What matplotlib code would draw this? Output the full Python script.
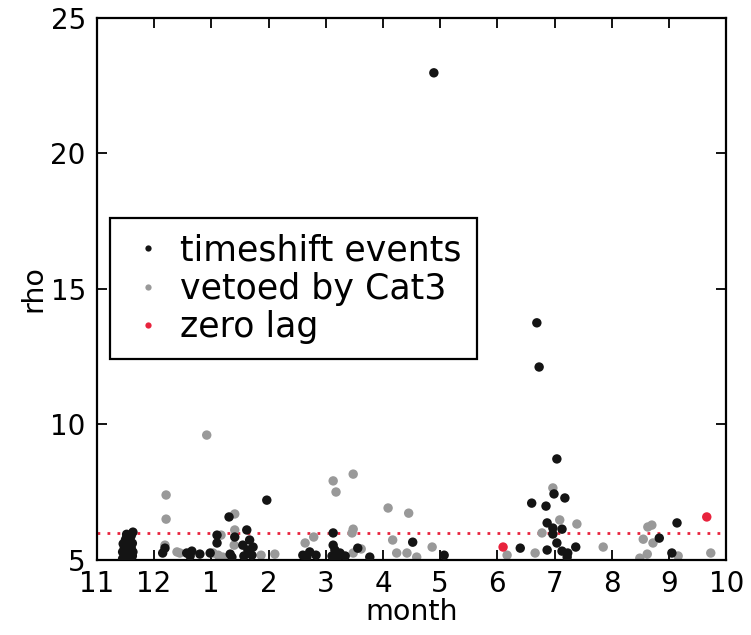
"""rho of timeshift / vetoed / zero-lag events against month."""

import matplotlib

matplotlib.use("Agg")
import matplotlib.pyplot as plt
from matplotlib.lines import Line2D

MONTH_TICKS = list(range(12))
MONTH_LABELS = ["11", "12", "1", "2", "3", "4", "5", "6", "7", "8", "9", "10"]
THRESHOLD = 6.0

# timeshift events (black)
ts_x = [0.45, 0.48, 0.45, 0.48, 0.46, 0.50, 0.52, 0.55, 0.56, 0.54, 0.57, 0.55,
        0.58, 0.63, 0.62, 0.63, 0.60, 0.62, 0.60, 0.52,
        1.15, 1.19, 1.57, 1.66, 1.80, 1.63, 1.98,
        2.10, 2.10, 2.31, 2.33, 2.36, 2.41, 2.62, 2.55, 2.67, 2.64, 2.71, 2.57, 2.73,
        2.97, 3.60, 3.72, 3.83, 3.67,
        4.13, 4.13, 4.16, 4.25, 4.34, 4.11, 4.21, 4.56, 4.77,
        5.52, 5.89, 6.07, 7.40,
        7.60, 7.69, 7.73, 7.85, 7.87, 7.97, 8.13, 7.97, 7.99, 8.18, 8.04, 8.04,
        7.87, 8.13, 8.23, 8.37, 8.22,
        9.83, 10.14, 10.05]
ts_y = [5.05, 5.15, 5.30, 5.45, 5.60, 5.75, 5.85, 5.05, 5.20, 5.35, 5.50, 5.65,
        5.80, 6.03, 5.15, 5.30, 5.45, 5.62, 5.90, 5.95,
        5.26, 5.44, 5.26, 5.33, 5.22, 5.15, 5.26,
        5.92, 5.63, 6.59, 5.22, 5.11, 5.85, 6.11, 5.55, 5.74, 5.37, 5.18, 5.15, 5.48,
        7.21, 5.18, 5.30, 5.18, 5.11,
        6.00, 5.55, 5.37, 5.26, 5.15, 5.15, 5.11, 5.44, 5.11,
        5.66, 22.97, 5.18, 5.44,
        7.10, 13.75, 12.12, 6.99, 6.37, 6.18, 6.14, 5.96, 7.44, 7.29, 8.73, 5.63,
        5.37, 5.33, 5.26, 5.48, 5.11,
        5.81, 6.37, 5.26]

# vetoed by Cat3 (grey)
veto_x = [1.21, 1.21, 1.19, 1.40, 1.45, 1.92, 2.03, 2.17, 2.12, 2.20,
          2.41, 2.41, 2.40, 2.87, 3.11, 3.64, 3.79,
          4.13, 4.18, 4.48, 4.46, 4.48, 4.48, 4.62,
          5.09, 5.45, 5.17, 5.24, 5.42, 5.59, 5.86,
          7.17, 7.66, 7.78, 7.97, 8.09, 8.39, 8.85,
          9.49, 9.55, 9.63, 9.70, 9.72, 9.62, 10.16, 10.73]
veto_y = [7.40, 6.51, 5.55, 5.30, 5.26, 9.61, 5.26, 5.92, 5.18, 5.11,
          6.70, 6.11, 5.55, 5.18, 5.22, 5.63, 5.85,
          7.92, 7.51, 8.17, 6.00, 6.14, 5.26, 5.41,
          6.92, 6.73, 5.74, 5.26, 5.26, 5.11, 5.48,
          5.18, 5.26, 6.00, 7.66, 6.48, 6.33, 5.48,
          5.07, 5.77, 6.22, 6.29, 5.63, 5.22, 5.15, 5.26]

# zero lag (red)
zl_x = [7.10, 10.66]
zl_y = [5.48, 6.59]

BLACK = "#141414"
GREY = "#999999"
RED = "#e8233d"

fig = plt.figure(figsize=(7.51, 6.35), dpi=100)
ax = fig.add_axes([0.129, 0.118, 0.838, 0.854])

ax.axhline(THRESHOLD, color=RED, lw=2, dashes=(1, 2.6), zorder=1)
ax.scatter(veto_x, veto_y, s=46, c=GREY, edgecolors="none", zorder=2)
ax.scatter(ts_x, ts_y, s=46, c=BLACK, edgecolors="none", zorder=3)
ax.scatter(zl_x, zl_y, s=46, c=RED, edgecolors="none", zorder=4)

ax.set_xlim(0, 11)
ax.set_ylim(5, 25)
ax.set_xticks(MONTH_TICKS)
ax.set_xticklabels(MONTH_LABELS)
ax.set_yticks([5, 10, 15, 20, 25])
ax.tick_params(direction="in", length=7, width=1.3, labelsize=20, top=True, right=True)
ax.tick_params(axis="x", pad=7)
ax.tick_params(axis="y", pad=8)
for sp in ax.spines.values():
    sp.set_linewidth(1.6)
ax.set_xlabel("month", fontsize=20.5, labelpad=0)
ax.set_ylabel("rho", fontsize=20.5, labelpad=2)

handles = [Line2D([], [], ls="none", marker="o", ms=4.5, mfc=c, mec="none")
           for c in (BLACK, GREY, RED)]
leg = ax.legend(handles, ["timeshift events", "vetoed by Cat3", "zero lag"],
                loc="upper left", bbox_to_anchor=(0.021, 0.631), borderaxespad=0,
                fontsize=25, frameon=True, fancybox=False, framealpha=1,
                edgecolor="black", handlelength=1.3, handletextpad=0.25,
                labelspacing=0.12, borderpad=0.45)
leg.get_frame().set_linewidth(1.6)

fig.savefig("out.png", dpi=100)
